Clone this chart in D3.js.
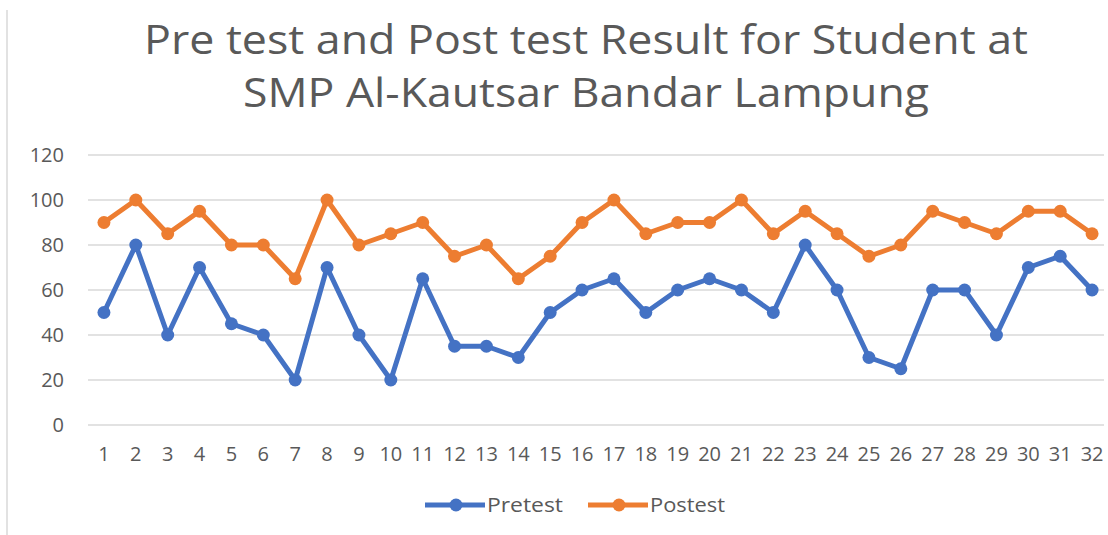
<!DOCTYPE html>
<html>
<head>
<meta charset="utf-8">
<script src="https://cdn.jsdelivr.net/npm/d3@7"></script>
<style>
  body { margin: 0; background: #fff; }
  text { font-family: "Open Sans", sans-serif; fill: #595959; }
</style>
</head>
<body>
<script>
var width = 1108;
var height = 535;

// data
var students = d3.range(1, 33).map(String);
var pretest = [50, 80, 40, 70, 45, 40, 20, 70, 40, 20, 65, 35, 35, 30, 50, 60,
               65, 50, 60, 65, 60, 50, 80, 60, 30, 25, 60, 60, 40, 70, 75, 60];
var postest = [90, 100, 85, 95, 80, 80, 65, 100, 80, 85, 90, 75, 80, 65, 75, 90,
               100, 85, 90, 90, 100, 85, 95, 85, 75, 80, 95, 90, 85, 95, 95, 85];
var yTicks = [0, 20, 40, 60, 80, 100, 120];
var seriesNames = ["Pretest", "Postest"];
var colors = ["#4472C4", "#ED7D31"];

var svg = d3.select("body")
    .append("svg")
    .attr("width", width)
    .attr("height", height);

// chart area border (only left edge visible)
svg.append("line")
    .attr("x1", 7).attr("x2", 7)
    .attr("y1", 10).attr("y2", height)
    .attr("stroke", "#d9d9d9")
    .attr("stroke-width", 1.5);

// title
var titleLines = ["Pre test and Post test Result for Student at", "SMP Al-Kautsar Bandar Lampung"];
var titleLen = [884, 686];
svg.selectAll(".title")
    .data(titleLines)
    .enter().append("text")
    .attr("class", "title")
    .attr("x", 586)
    .attr("y", function(d, i) { return 54 + i * 53; })
    .attr("text-anchor", "middle")
    .attr("font-size", 40)
    .attr("textLength", function(d, i) { return titleLen[i]; })
    .attr("lengthAdjust", "spacingAndGlyphs")
    .text(function(d) { return d; });

var x = d3.scaleBand()
    .domain(students)
    .range([88, 1108]);

var y = d3.scaleLinear()
    .domain([0, 120])
    .range([425, 155]);

// gridlines
svg.selectAll(".grid")
    .data(yTicks)
    .enter().append("line")
    .attr("x1", 88).attr("x2", 1104)
    .attr("y1", function(d) { return y(d); })
    .attr("y2", function(d) { return y(d); })
    .attr("stroke", "#d9d9d9")
    .attr("stroke-width", 1.3);

// y labels
svg.selectAll(".ylab")
    .data(yTicks)
    .enter().append("text")
    .attr("x", 64)
    .attr("y", function(d) { return y(d) + 7; })
    .attr("text-anchor", "end")
    .attr("font-size", 20)
    .text(function(d) { return d; });

// x labels
svg.selectAll(".xlab")
    .data(students)
    .enter().append("text")
    .attr("x", function(d) { return x(d) + x.bandwidth() / 2; })
    .attr("y", 461)
    .attr("text-anchor", "middle")
    .attr("font-size", 20)
    .text(function(d) { return d; });

var line = d3.line()
    .x(function(d, i) { return x(students[i]) + x.bandwidth() / 2; })
    .y(function(d) { return y(d); });

[pretest, postest].forEach(function(values, s) {
    svg.append("path")
        .datum(values)
        .attr("d", line)
        .attr("fill", "none")
        .attr("stroke", colors[s])
        .attr("stroke-width", 5)
        .attr("stroke-linejoin", "round");

    svg.selectAll(".dot" + s)
        .data(values)
        .enter().append("circle")
        .attr("cx", function(d, i) { return x(students[i]) + x.bandwidth() / 2; })
        .attr("cy", function(d) { return y(d); })
        .attr("r", 6.5)
        .attr("fill", colors[s]);
});

// legend
var legendX = [425, 588];
var legendLen = [76, 75];
seriesNames.forEach(function(name, s) {
    var lx = legendX[s];
    svg.append("line")
        .attr("x1", lx).attr("x2", lx + 60)
        .attr("y1", 505).attr("y2", 505)
        .attr("stroke", colors[s])
        .attr("stroke-width", 5);
    svg.append("circle")
        .attr("cx", lx + 31).attr("cy", 505)
        .attr("r", 6.5)
        .attr("fill", colors[s]);
    svg.append("text")
        .attr("x", lx + 62)
        .attr("y", 512)
        .attr("font-size", 20)
        .attr("textLength", legendLen[s])
        .attr("lengthAdjust", "spacingAndGlyphs")
        .text(name);
});
</script>
</body>
</html>
